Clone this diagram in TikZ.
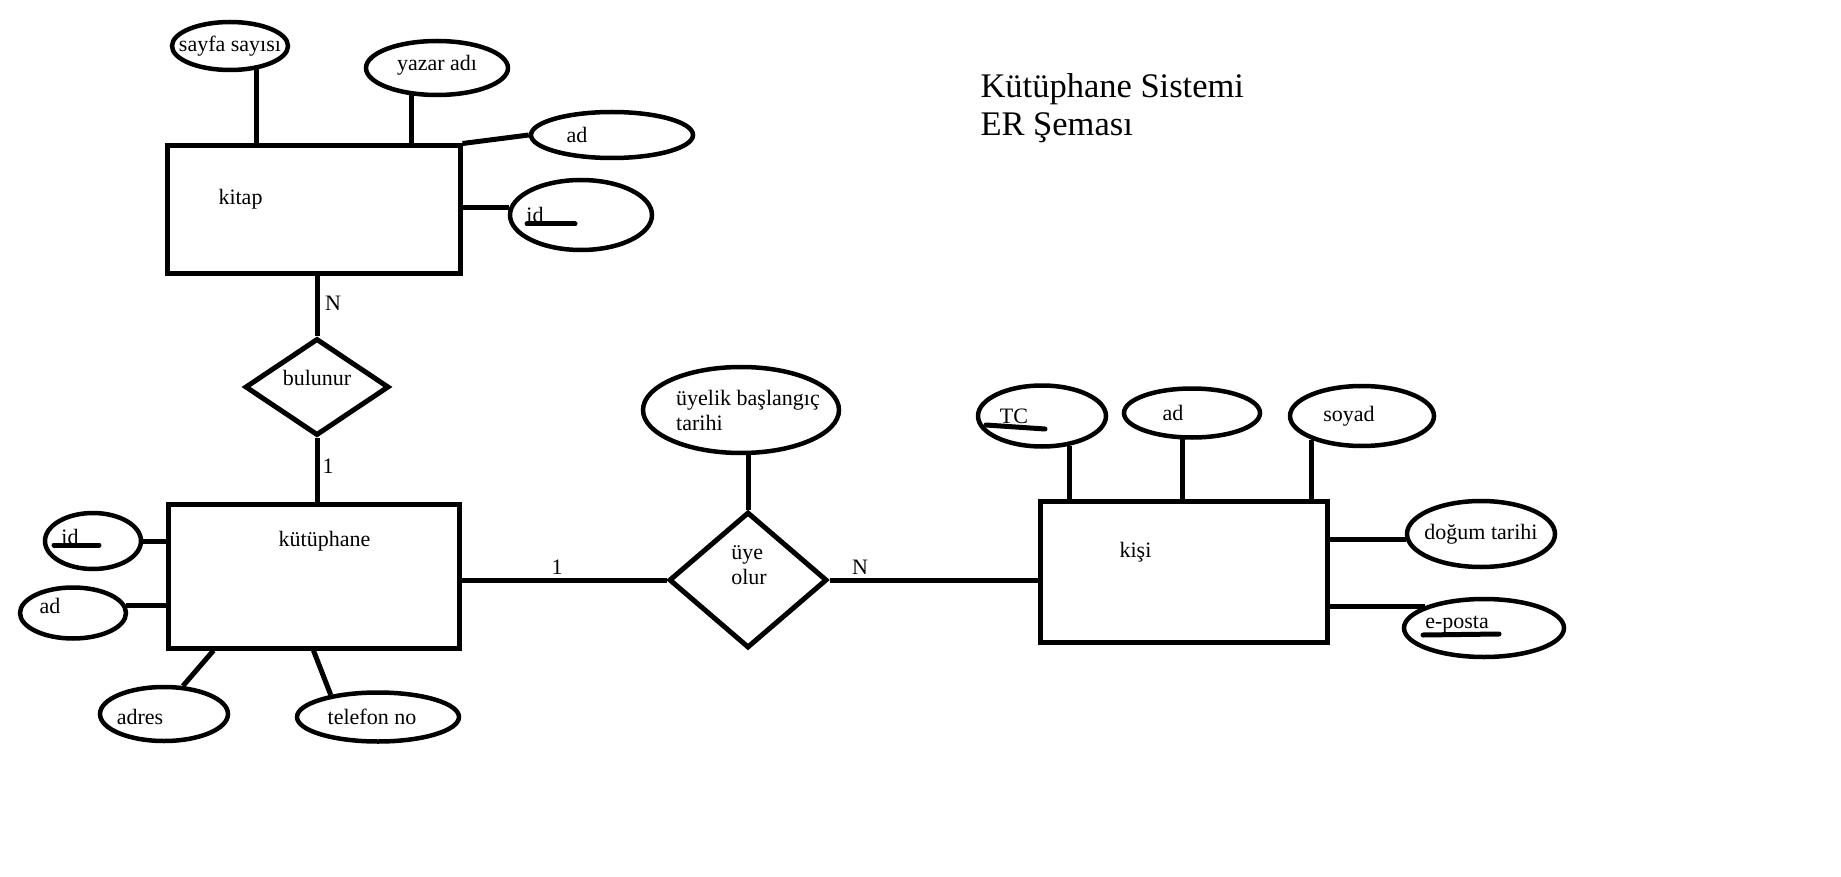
\documentclass[tikz,border=0pt]{standalone}
\usepackage{fontspec}
\setmainfont{Liberation Serif}
\usetikzlibrary{shapes.geometric}

\begin{document}
\begin{tikzpicture}[x=1pt, y=-1pt, line width=5pt, font=\fontsize{22}{25}\selectfont,
  varlik/.style={draw, rectangle, inner sep=0pt},
  nitelik/.style={draw, ellipse, inner sep=0pt, line width=4.5pt},
  iliski/.style={draw, diamond, inner sep=0pt},
  altcizgi/.style={line width=5pt, line cap=round}]
  \useasboundingbox (0,0) rectangle (1841,877);

  % baslik
  \node[anchor=north west, align=left, inner sep=0pt, font=\fontsize{34.5}{38}\selectfont] (baslik) at (978,71) {Kütüphane Sistemi\\ER Şeması};

  % varliklar
  \node[varlik, minimum width=293, minimum height=128, label={[xshift=-73pt, yshift=11pt]center:kitap}] (kitap) at (313.5,210) {};
  \node[varlik, minimum width=291, minimum height=144, label={[xshift=11pt, yshift=35pt]center:kütüphane}] (kutuphane) at (313.5,576) {};
  \node[varlik, minimum width=287, minimum height=141, label={[xshift=-48pt, yshift=19pt]center:kişi}] (kisi) at (1183.5,571.5) {};

  % iliskiler
  \node[iliski, minimum width=144, minimum height=97, label={[yshift=9pt]center:bulunur}] (bulunur) at (317,387) {};
  \node[iliski, minimum width=158, minimum height=136, label={[align=left, xshift=1pt, yshift=15pt]center:üye\\olur}] (uye) at (748,580) {};

  % kitap nitelikleri
  \node[nitelik, minimum width=116, minimum height=48, label={center:sayfa sayısı}] (sayfa) at (230,46) {};
  \node[nitelik, minimum width=142, minimum height=54, label={[yshift=3pt]center:yazar adı}] (yazar) at (437,68) {};
  \node[nitelik, minimum width=162, minimum height=46, label={[xshift=-35pt]center:ad}] (kitapAd) at (612,135) {};
  \node[nitelik, minimum width=142, minimum height=70, label={[xshift=-46pt]center:id}] (kitapId) at (581,215) {};

  % kutuphane nitelikleri
  \node[nitelik, minimum width=96, minimum height=56, label={[xshift=-23pt, yshift=4pt]center:id}] (kutId) at (93,541) {};
  \node[nitelik, minimum width=106, minimum height=51, label={[xshift=-23pt, yshift=7pt]center:ad}] (kutAd) at (73,613) {};
  \node[nitelik, minimum width=128, minimum height=54, label={[xshift=-24pt, yshift=-3pt]center:adres}] (adres) at (164,714) {};
  \node[nitelik, minimum width=162, minimum height=49, label={[xshift=-6pt]center:telefon no}] (telefon) at (378,717) {};

  % uyelik niteligi
  \node[nitelik, minimum width=196, minimum height=86, label={[align=left, xshift=7pt]center:üyelik başlangıç\\tarihi}] (uyelik) at (741,410) {};

  % kisi nitelikleri
  \node[nitelik, minimum width=128, minimum height=61, label={[xshift=-28pt]center:TC}] (tc) at (1042,416) {};
  \node[nitelik, minimum width=136, minimum height=49, label={[xshift=-19pt]center:ad}] (kisiAd) at (1192,413) {};
  \node[nitelik, minimum width=144, minimum height=60, label={[xshift=-13pt]center:soyad}] (soyad) at (1362,416) {};
  \node[nitelik, minimum width=148, minimum height=66, label={center:doğum tarihi}] (dogum) at (1481,534) {};
  \node[nitelik, minimum width=160, minimum height=58, label={[xshift=-27pt, yshift=3pt]center:e-posta}] (eposta) at (1484,628) {};

  % anahtar alti cizgiler
  \draw[altcizgi] ([shift={(-54,9)}]kitapId.center) -- ++(48,0);
  \draw[altcizgi] ([shift={(-39,4)}]kutId.center) -- ++(45,0);
  \draw[altcizgi] ([shift={(-56,9)}]tc.center) -- ++(59,4);
  \draw[altcizgi] ([shift={(-61,7)}]eposta.center) -- ++(76,-1);

  % kardinaliteler
  \node (nKitap) at (333,303) {N};
  \node (birBulunur) at (328,466) {1};
  \node (birUye) at (557,567) {1};
  \node (nKisi) at (860,567) {N};

  % baglantilar
  \draw (sayfa.-41) -- (sayfa.-41 |- kitap.north);
  \draw (yazar.-133) -- (yazar.-133 |- kitap.north);
  \draw (kitap.north east) -- (kitapAd.west);
  \draw (kitapId.174) -- (kitapId.174 -| kitap.east);
  \draw (bulunur.north |- kitap.south) -- (bulunur.north);
  \draw (bulunur.south) -- (bulunur.south |- kutuphane.north);
  \draw (kutId.east) -- (kutId.east -| kutuphane.west);
  \draw (kutAd.8) -- (kutAd.8 -| kutuphane.west);
  \draw (adres.56) -- ([xshift=48pt]kutuphane.south west);
  \draw (telefon.155) -- (kutuphane.south);
  \draw (kutuphane.east |- uye.west) -- (uye.west);
  \draw (uyelik.south -| uye.north) -- (uye.north);
  \draw (uye.east) -- (uye.east -| kisi.west);
  \draw (tc.-47) -- (tc.-47 |- kisi.north);
  \draw (kisiAd.-110) -- (kisiAd.-110 |- kisi.north);
  \draw (soyad.-155) -- (soyad.-155 |- kisi.north);
  \draw (dogum.184) -- (dogum.184 -| kisi.east);
  \draw (eposta.160) -- (eposta.160 -| kisi.east);
\end{tikzpicture}
\end{document}
